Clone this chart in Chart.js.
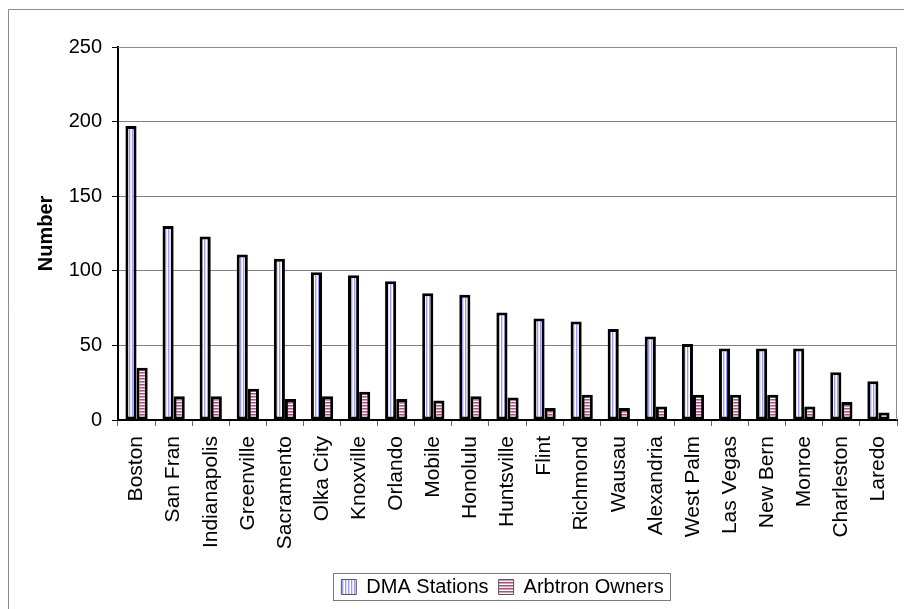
<!DOCTYPE html>
<html>
<head>
<meta charset="utf-8">
<script src="https://cdn.jsdelivr.net/npm/chart.js@4.4.1/dist/chart.umd.min.js"></script>
<style>
  html, body { margin: 0; padding: 0; background: #fff; }
  canvas { display: block; }
</style>
</head>
<body>
<canvas id="chart-dma" width="904" height="609"></canvas>
<script>
const markets = ['Boston', 'San Fran', 'Indianapolis', 'Greenville', 'Sacramento', 'Olka City',
  'Knoxville', 'Orlando', 'Mobile', 'Honolulu', 'Huntsville', 'Flint', 'Richmond', 'Wausau',
  'Alexandria', 'West Palm', 'Las Vegas', 'New Bern', 'Monroe', 'Charleston', 'Laredo'];
const dmaStations = [197, 130, 123, 111, 108, 99, 97, 93, 85, 84, 72, 68, 66, 61, 56, 51, 48, 48, 48, 32, 26];
const arbtronOwners = [35, 16, 16, 21, 14, 16, 19, 14, 13, 16, 15, 8, 17, 8, 9, 17, 17, 17, 9, 12, 5];
const yTicks = [0, 50, 100, 150, 200, 250];

const FONT = 'Liberation Sans, Arial, sans-serif';

// small repeating stripe fills like the old spreadsheet patterns
function stripes(colors, vertical) {
  const c = document.createElement('canvas');
  c.width = vertical ? colors.length : 1;
  c.height = vertical ? 1 : colors.length;
  const g = c.getContext('2d');
  colors.forEach((col, i) => {
    g.fillStyle = col;
    if (vertical) g.fillRect(i, 0, 1, 1); else g.fillRect(0, i, 1, 1);
  });
  return g.createPattern(c, 'repeat');
}

const dmaFill = stripes(['#9999ff', '#dcdcff', '#ffffff'], true);
const arbFill = stripes(['#b14f7c', '#dc9cb9', '#ffffff'], false);

const framePlugin = {
  id: 'frame',
  afterLayout(chart) {
    chart.legend.left += 50;
    chart.legend.right += 50;
  },
  beforeDraw(chart) {
    const ctx = chart.ctx;
    ctx.save();
    ctx.strokeStyle = '#8c8c8c';
    ctx.lineWidth = 1;
    ctx.beginPath();
    ctx.moveTo(8.5, chart.height);
    ctx.lineTo(8.5, 9.5);
    ctx.lineTo(chart.width, 9.5);
    ctx.stroke();
    ctx.restore();
  },
  afterDraw(chart) {
    const ctx = chart.ctx;
    const area = chart.chartArea;
    ctx.save();
    ctx.strokeStyle = '#8c8c8c';
    ctx.lineWidth = 1;
    ctx.beginPath();
    ctx.moveTo(area.left, area.top + 0.5);
    ctx.lineTo(area.right - 0.5, area.top + 0.5);
    ctx.lineTo(area.right - 0.5, area.bottom);
    ctx.stroke();

    // box round the legend
    const lg = chart.legend;
    const pad = lg.options.labels.padding;
    const lw = lg.lineWidths[0];
    const start = (lg.left + lg.right + pad - lw) / 2;
    const end = start + lw - pad;
    const cy = lg.top + pad + 10;
    ctx.strokeStyle = '#7a7a7a';
    ctx.strokeRect(Math.round(start - 8) + 0.5, Math.round(cy - 14) + 0.5, Math.round(end - start + 15), 27);
    ctx.restore();
  }
};

new Chart(document.getElementById('chart-dma').getContext('2d'), {
  type: 'bar',
  data: {
    labels: markets,
    datasets: [{
      label: 'DMA Stations',
      data: dmaStations,
      backgroundColor: dmaFill,
      borderColor: '#000',
      borderWidth: 3,
      borderSkipped: false
    }, {
      label: 'Arbtron Owners',
      data: arbtronOwners,
      backgroundColor: arbFill,
      borderColor: '#000',
      borderWidth: 3,
      borderSkipped: false
    }]
  },
  options: {
    responsive: false,
    animation: false,
    devicePixelRatio: 1,
    layout: { padding: { left: 8, top: 47, right: 7, bottom: 2 } },
    datasets: { bar: { categoryPercentage: 0.6, barPercentage: 1 } },
    plugins: {
      tooltip: { enabled: false },
      legend: {
        position: 'bottom',
        labels: {
          color: '#000',
          font: { family: FONT, size: 20 },
          boxWidth: 15,
          boxHeight: 15,
          padding: 10,
          generateLabels(chart) {
            const items = Chart.defaults.plugins.legend.labels.generateLabels(chart);
            items.forEach(it => { it.lineWidth = 1; it.strokeStyle = '#555'; });
            return items;
          }
        }
      }
    },
    scales: {
      x: {
        offset: true,
        grid: { offset: true, drawOnChartArea: false, tickLength: 6, tickColor: '#666' },
        border: { color: '#000', width: 2 },
        ticks: { color: '#000', font: { family: FONT, size: 21 }, minRotation: 90, maxRotation: 90, padding: 10, autoSkip: false },
        afterFit(s) {
          s.height = s.chart.height - 2 - s.chart.legend.height - 420;
          s.paddingLeft = 0;
          s.paddingRight = 0;
        }
      },
      y: {
        min: yTicks[0],
        max: yTicks[yTicks.length - 1],
        ticks: { stepSize: yTicks[1] - yTicks[0], color: '#000', font: { family: FONT, size: 20 }, padding: 10 },
        grid: { color: '#808080', tickLength: 6, tickColor: '#000' },
        border: { color: '#000', width: 2 },
        title: { display: true, text: 'Number', color: '#000', font: { family: FONT, size: 20, weight: 'bold' }, padding: { top: 26, bottom: 0 } },
        afterFit(s) { s.width = 110; }
      }
    }
  },
  plugins: [framePlugin]
});
</script>
</body>
</html>
